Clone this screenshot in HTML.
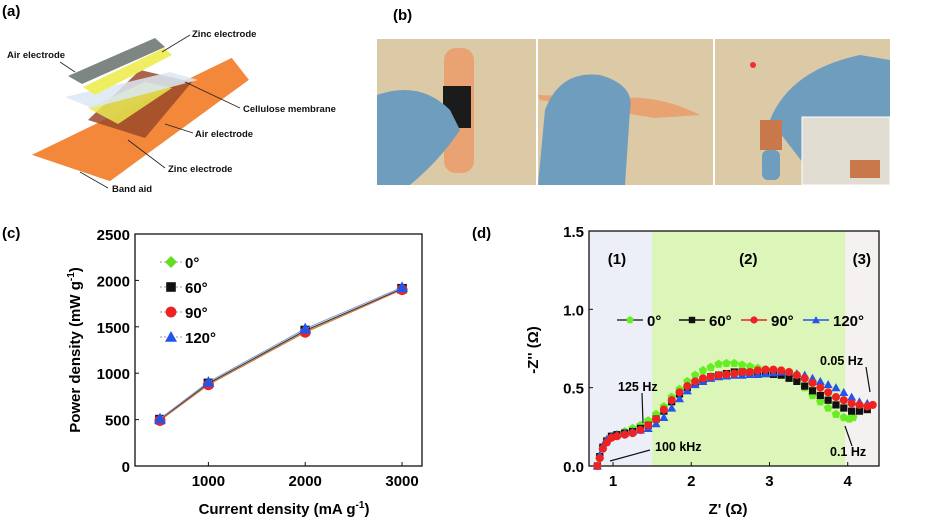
<!DOCTYPE html>
<html><head><meta charset="utf-8"><style>
body{margin:0;background:#fff;width:945px;height:521px;overflow:hidden;font-family:"Liberation Sans",sans-serif}
svg text{font-family:"Liberation Sans",sans-serif;font-weight:bold}
</style></head><body>
<svg id="fig" width="945" height="521" viewBox="0 0 945 521" xmlns="http://www.w3.org/2000/svg">
<g>
<text x="2" y="16" font-size="15">(a)</text>
<polygon points="30,155 110,182 250,80 232,57" fill="#f4883a" stroke="#fff" stroke-width="1.5" stroke-linejoin="round"/>
<polygon points="88,120 145,138 192,82 140,70" fill="#9a4a2a" opacity="0.85"/>
<polygon points="88,108 118,124 172,88 145,82" fill="#e8e850" opacity="0.85"/>
<polygon points="65,97 92,108 198,80 170,72" fill="#dce8f4" opacity="0.85"/>
<polygon points="83,87 95,95 172,55 164,48" fill="#eeee60"/>
<polygon points="68,76 82,84 165,47 155,38" fill="#7d8683"/>
<g font-size="9.5" fill="#111">
<text x="192" y="37">Zinc electrode</text>
<text x="7" y="58">Air electrode</text>
<text x="243" y="112">Cellulose membrane</text>
<text x="195" y="137">Air electrode</text>
<text x="168" y="172">Zinc electrode</text>
<text x="112" y="192">Band aid</text>
</g>
<g stroke="#222" stroke-width="0.8" fill="none">
<line x1="190" y1="35" x2="162" y2="52"/><line x1="60" y1="62" x2="75" y2="72"/>
<line x1="240" y1="108" x2="185" y2="82"/><line x1="193" y1="133" x2="165" y2="124"/>
<line x1="165" y1="168" x2="128" y2="140"/><line x1="108" y1="188" x2="80" y2="172"/>
</g></g>
<g>
<text x="393" y="20" font-size="15">(b)</text>
<rect x="377" y="39" width="159" height="146" fill="#dcc9a6"/>
<rect x="444" y="48" width="30" height="125" rx="12" fill="#e9a271"/>
<rect x="443" y="86" width="28" height="42" fill="#1b1b1b"/>
<path d="M377,95 Q420,80 450,110 L460,130 Q440,160 410,185 L377,185Z" fill="#6f9dbd"/>
<rect x="538" y="39" width="175" height="146" fill="#dcc9a6"/>
<path d="M538,95 L620,98 Q660,95 700,115 L655,118 L540,100Z" fill="#e9a271"/>
<path d="M545,110 Q560,70 600,75 Q635,85 630,110 L625,185 L538,185Z" fill="#6f9dbd"/>
<rect x="715" y="39" width="175" height="146" fill="#dcc9a6"/>
<path d="M770,120 Q790,70 860,55 L890,60 L890,185 L820,185Z" fill="#6f9dbd"/>
<rect x="760" y="120" width="22" height="30" fill="#c8784a"/>
<rect x="762" y="150" width="18" height="30" rx="6" fill="#6f9dbd"/>
<circle cx="753" cy="65" r="3" fill="#f03030"/>
<rect x="802" y="117" width="88" height="68" fill="#e2ddd2" stroke="#fff"/>
<rect x="850" y="160" width="30" height="18" fill="#c8784a"/>
</g>
<g id="chartC"></g>
<g id="chartD"></g>
</svg>
<script>
const NS="http://www.w3.org/2000/svg";
function mk(parent,tag,attrs,txt){const e=document.createElementNS(NS,tag);for(const k in attrs)e.setAttribute(k,attrs[k]);if(txt!==undefined)e.textContent=txt;parent.appendChild(e);return e;}
function marker(g,shape,x,y,s,col){
  let e;
  if(shape==='diamond')e=mk(g,'polygon',{points:`${x},${y-s} ${x+s},${y} ${x},${y+s} ${x-s},${y}`,fill:col});
  else if(shape==='square')e=mk(g,'rect',{x:x-s*0.8,y:y-s*0.8,width:s*1.6,height:s*1.6,fill:col});
  else if(shape==='circle')e=mk(g,'circle',{cx:x,cy:y,r:s*0.9,fill:col});
  else if(shape==='triangle')e=mk(g,'polygon',{points:`${x},${y-s} ${x+s},${y+s*0.8} ${x-s},${y+s*0.8}`,fill:col});
  else e=mk(g,'polygon',{points:[0,1,2,3,4].map(i=>{const a=-Math.PI/2+i*2*Math.PI/5;return (x+s*Math.cos(a))+','+(y+s*Math.sin(a));}).join(' '),fill:col});
  return e;
}
const cCurrent=[500,1000,2000,3000];
const cP0=[495,885,1450,1905];
const cP60=[500,890,1460,1910];
const cP90=[490,875,1440,1900];
const cP120=[510,905,1480,1925];
const cYTicks=[0,500,1000,1500,2000,2500];
const cXTicks=[1000,2000,3000];
const cSeriesNames=['0°','60°','90°','120°'];
const d0x=[0.8,0.83,0.87,0.92,0.98,1.05,1.15,1.25,1.35,1.45,1.55,1.65,1.75,1.85,1.95,2.05,2.15,2.25,2.35,2.45,2.55,2.65,2.75,2.85,2.95,3.05,3.15,3.25,3.35,3.45,3.55,3.65,3.75,3.85,3.95,4.02,4.07];
const d0y=[0.0,0.06,0.12,0.16,0.19,0.2,0.22,0.24,0.26,0.29,0.33,0.38,0.44,0.49,0.54,0.58,0.61,0.63,0.65,0.655,0.655,0.645,0.635,0.625,0.615,0.605,0.59,0.57,0.54,0.5,0.45,0.41,0.37,0.33,0.31,0.3,0.31];
const d60x=[0.8,0.83,0.87,0.92,0.98,1.05,1.15,1.25,1.35,1.45,1.55,1.65,1.75,1.85,1.95,2.05,2.15,2.25,2.35,2.45,2.55,2.65,2.75,2.85,2.95,3.05,3.15,3.25,3.35,3.45,3.55,3.65,3.75,3.85,3.95,4.05,4.15,4.25];
const d60y=[0.0,0.06,0.12,0.16,0.19,0.2,0.21,0.22,0.24,0.26,0.3,0.35,0.41,0.46,0.5,0.53,0.55,0.57,0.58,0.59,0.6,0.6,0.595,0.59,0.59,0.585,0.58,0.56,0.54,0.51,0.48,0.45,0.42,0.39,0.37,0.35,0.35,0.36];
const d90x=[0.8,0.83,0.87,0.92,0.98,1.05,1.15,1.25,1.35,1.45,1.55,1.65,1.75,1.85,1.95,2.05,2.15,2.25,2.35,2.45,2.55,2.65,2.75,2.85,2.95,3.05,3.15,3.25,3.35,3.45,3.55,3.65,3.75,3.85,3.95,4.05,4.15,4.25,4.32];
const d90y=[0.0,0.05,0.11,0.15,0.18,0.19,0.2,0.21,0.23,0.26,0.3,0.36,0.42,0.47,0.51,0.54,0.56,0.57,0.58,0.585,0.59,0.6,0.6,0.61,0.615,0.615,0.61,0.6,0.58,0.56,0.53,0.5,0.47,0.44,0.42,0.4,0.39,0.38,0.39];
const d120x=[0.8,0.83,0.87,0.92,0.98,1.05,1.15,1.25,1.35,1.45,1.55,1.65,1.75,1.85,1.95,2.05,2.15,2.25,2.35,2.45,2.55,2.65,2.75,2.85,2.95,3.05,3.15,3.25,3.35,3.45,3.55,3.65,3.75,3.85,3.95,4.05,4.15,4.25];
const d120y=[0.0,0.07,0.13,0.17,0.19,0.2,0.21,0.22,0.23,0.24,0.27,0.31,0.37,0.43,0.48,0.52,0.54,0.56,0.57,0.575,0.58,0.58,0.585,0.585,0.59,0.595,0.6,0.6,0.59,0.58,0.56,0.54,0.52,0.5,0.47,0.44,0.41,0.4];
const dXTicks=[1,2,3,4];
const dYTicks=[0.0,0.5,1.0,1.5];
const dSeriesNames=['0°','60°','90°','120°'];

(function(){
const g=document.getElementById('chartC');
const L=135,R=422,T=234,B=466,x0=242,x1=3206,y0=0,y1=2500;
const sx=v=>L+(v-x0)/(x1-x0)*(R-L), sy=v=>B-(v-y0)/(y1-y0)*(B-T);
let t=mk(g,'text',{x:2,y:238,'font-size':15},'(c)');


let f=mk(g,'rect',{x:L,y:T,width:R-L,height:B-T,fill:'none',stroke:'#111','stroke-width':1.3});


cYTicks.forEach(v=>{mk(g,'line',{x1:L,x2:L+4,y1:sy(v),y2:sy(v),stroke:'#111'});
 const e=mk(g,'text',{x:L-5,y:sy(v)+6,'font-size':15,'text-anchor':'end'},v);
 
 });
cXTicks.forEach(v=>{mk(g,'line',{x1:sx(v),x2:sx(v),y1:B,y2:B-4,stroke:'#111'});
 const e=mk(g,'text',{x:sx(v),y:B+20,'font-size':15,'text-anchor':'middle'},v);
 
 });
let xt=mk(g,'text',{x:284,y:514,'font-size':15,'text-anchor':'middle'},'Current density (mA g');
mk(xt,'tspan',{dy:-6,'font-size':10},'-1');mk(xt,'tspan',{dy:6},')');


let yt=mk(g,'text',{x:0,y:0,'font-size':15,'text-anchor':'middle',transform:'translate(80,350) rotate(-90)'},'Power density (mW g');
mk(yt,'tspan',{dy:-6,'font-size':10},'-1');mk(yt,'tspan',{dy:6},')');


const series=[[cP0,'diamond','#66dd22'],[cP60,'square','#111'],[cP90,'circle','#ee2222'],[cP120,'triangle','#2255ee']];
series.forEach((s,i)=>{
 const pl=mk(g,'polyline',{points:cCurrent.map((c,j)=>sx(c)+','+sy(s[0][j])).join(' '),fill:'none',stroke:['#88cc88','#333','#e07040','#8899cc'][i],'stroke-width':1});
 
 
 cCurrent.forEach((c,j)=>{const m=marker(g,s[1],sx(c),sy(s[0][j]),6,s[2]);
  
  });
 const ly=262+i*25;
 mk(g,'line',{x1:160,x2:182,y1:ly,y2:ly,stroke:'#999','stroke-dasharray':'2,2'});
 marker(g,s[1],171,ly,6,s[2]);
 const lt=mk(g,'text',{x:185,y:ly+6,'font-size':15},cSeriesNames[i]);
 
 
});
})();
(function(){
const g=document.getElementById('chartD');
const L=589,R=879,T=231,B=466,x0=0.693,x1=4.40,y0=0,y1=1.5;
const sx=v=>L+(v-x0)/(x1-x0)*(R-L), sy=v=>B-(v-y0)/(y1-y0)*(B-T);
let t=mk(g,'text',{x:472,y:238,'font-size':15},'(d)');


let r1=mk(g,'rect',{x:L,y:T,width:sx(1.5)-L,height:B-T,fill:'#eceff8'});


let r2=mk(g,'rect',{x:sx(1.5),y:T,width:sx(3.97)-sx(1.5),height:B-T,fill:'#dcf5b8'});


let r3=mk(g,'rect',{x:sx(3.97),y:T,width:R-sx(3.97),height:B-T,fill:'#f5f1f1'});


[['(1)',1.05],['(2)',2.73],['(3)',4.18]].forEach(a=>{const e=mk(g,'text',{x:sx(a[1]),y:264,'font-size':15,'text-anchor':'middle'},a[0]);
 
 });
let f=mk(g,'rect',{x:L,y:T,width:R-L,height:B-T,fill:'none',stroke:'#111','stroke-width':1.3});


dYTicks.forEach(v=>{mk(g,'line',{x1:L,x2:L+4,y1:sy(v),y2:sy(v),stroke:'#111'});
 const e=mk(g,'text',{x:L-5,y:sy(v)+6,'font-size':15,'text-anchor':'end'},v.toFixed(1));
 
 });
dXTicks.forEach(v=>{mk(g,'line',{x1:sx(v),x2:sx(v),y1:B,y2:B-4,stroke:'#111'});
 const e=mk(g,'text',{x:sx(v),y:B+20,'font-size':15,'text-anchor':'middle'},v);
 
 });
let xt=mk(g,'text',{x:728,y:514,'font-size':15,'text-anchor':'middle'},"Z' (Ω)");


let yt=mk(g,'text',{x:0,y:0,'font-size':15,'text-anchor':'middle',transform:'translate(538,350) rotate(-90)'},"-Z'' (Ω)");


const series=[[d0x,d0y,'pentagon','#66ee22'],[d60x,d60y,'square','#111'],[d120x,d120y,'triangle','#2255ee'],[d90x,d90y,'circle','#ee2222']];
series.forEach(s=>{
 const gg=mk(g,'g',{});
 
 
 s[0].forEach((x,j)=>{marker(gg,s[2],sx(x),sy(s[1][j]),4.5,s[3]);});
});
const lg=[['pentagon','#66ee22','#333'],['square','#111','#111'],['circle','#ee2222','#ee2222'],['triangle','#2255ee','#2255ee']];
let lx=617;
lg.forEach((l,i)=>{
 mk(g,'line',{x1:lx,x2:lx+26,y1:320,y2:320,stroke:l[2],'stroke-width':1.5});
 marker(g,l[0],lx+13,320,4,l[1]);
 const e=mk(g,'text',{x:lx+30,y:326,'font-size':15},dSeriesNames[i]);
 
 
 lx+=[62,62,62,0][i];
});
const ann=[["125 Hz",618,391,643,423,642,393],["100 kHz",655,451,610,461,650,450],["0.05 Hz",820,365,870,392,866,367],["0.1 Hz",830,456,845,426,852,446]];
ann.forEach(a=>{const e=mk(g,'text',{x:a[1],y:a[2],'font-size':12.5},a[0]);
 
 
 mk(g,'line',{x1:a[5],y1:a[6],x2:a[3],y2:a[4],stroke:'#111','stroke-width':1.2});});
})();
</script>
</body></html>
